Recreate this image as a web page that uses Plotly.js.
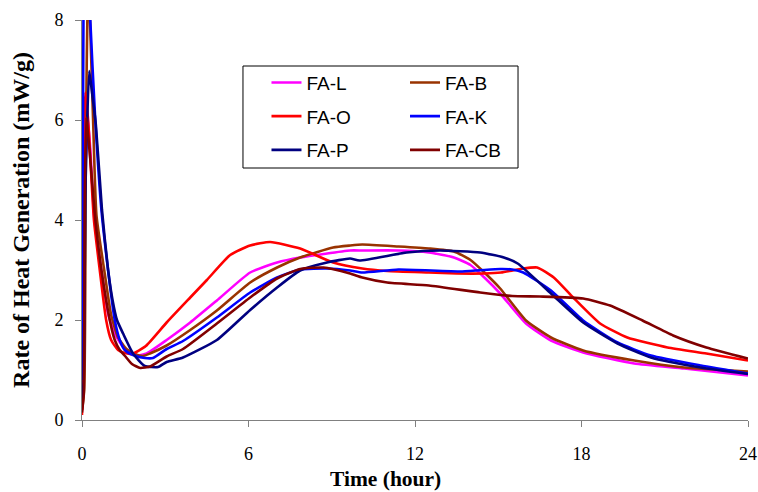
<!DOCTYPE html>
<html>
<head>
<meta charset="utf-8">
<script src="https://cdn.plot.ly/plotly-3.0.1.min.js"></script>
<style>html,body{margin:0;padding:0;background:#fff;}#chart{width:758px;height:492px;}</style>
</head>
<body>
<div id="chart"></div>
<script>
// Time (hour) and rate of heat generation (mW/g) for each mix
const timeL = [0, 0.05, 0.1, 0.2, 0.3, 0.45, 0.7, 0.95, 1.2, 1.5, 1.8, 2.02, 2.33, 3.05, 3.9, 4.86, 6.06, 7.03, 7.86, 9.66, 10.1, 11.4, 12.5, 13.4, 14.0, 14.5, 15.07, 16.0, 16.9, 18.06, 19.9, 21.7, 24];
const rateL = [0.2, 1.0, 4.5, 6.1, 5.4, 4.0, 3.0, 2.1, 1.7, 1.45, 1.34, 1.29, 1.33, 1.6, 1.95, 2.39, 2.95, 3.15, 3.25, 3.39, 3.39, 3.39, 3.35, 3.25, 3.1, 2.85, 2.53, 1.93, 1.59, 1.35, 1.13, 1.03, 0.89];

const timeB = [0, 0.08, 0.14, 0.22, 0.3, 0.4, 0.52, 0.8, 1.05, 1.3, 1.6, 1.9, 2.2, 2.45, 3.05, 3.9, 4.86, 6.06, 7.03, 7.86, 9.05, 9.66, 10.1, 11.4, 12.5, 13.4, 14.0, 14.5, 15.07, 16.0, 16.9, 18.06, 19.9, 21.7, 24];
const rateB = [0.2, 0.6, 5.5, 9.0, 7.8, 6.0, 4.1, 3.0, 2.1, 1.65, 1.42, 1.32, 1.28, 1.33, 1.49, 1.8, 2.19, 2.75, 3.05, 3.25, 3.45, 3.49, 3.51, 3.47, 3.43, 3.37, 3.2, 2.95, 2.63, 1.99, 1.65, 1.39, 1.19, 1.05, 0.97];

const timeO = [0, 0.03, 0.07, 0.12, 0.22, 0.43, 0.64, 0.87, 1.05, 1.3, 1.55, 1.8, 2.3, 3.05, 3.9, 4.5, 5.34, 6.06, 6.78, 7.86, 9.05, 10.1, 11.0, 12.5, 13.5, 14.5, 15.1, 15.8, 16.4, 17.0, 17.7, 18.67, 19.65, 21.1, 22.5, 24];
const rateO = [0.1, 2.5, 5.8, 6.55, 6.0, 4.0, 3.0, 2.0, 1.6, 1.4, 1.34, 1.32, 1.48, 1.95, 2.45, 2.8, 3.3, 3.49, 3.56, 3.43, 3.15, 3.03, 2.98, 2.95, 2.93, 2.93, 2.95, 3.02, 3.05, 2.85, 2.45, 1.93, 1.65, 1.45, 1.33, 1.19];

const timeK = [0, 0.02, 0.06, 0.15, 0.29, 0.47, 0.7, 0.94, 1.18, 1.36, 1.54, 1.84, 2.26, 2.56, 3.05, 3.64, 4.86, 6.06, 7.03, 7.86, 8.83, 9.66, 10.1, 11.4, 13.7, 15.07, 15.5, 15.9, 16.9, 18.06, 19.3, 20.5, 22.3, 24];
const rateK = [0.8, 2.5, 9.0, 10.5, 8.1, 6.09, 4.2, 3.0, 2.0, 1.6, 1.4, 1.3, 1.24, 1.24, 1.42, 1.58, 2.05, 2.55, 2.85, 3.01, 3.03, 2.99, 2.95, 3.01, 2.97, 3.02, 3.01, 2.95, 2.59, 1.99, 1.55, 1.29, 1.09, 0.93];

const timeP = [0, 0.06, 0.12, 0.26, 0.35, 0.5, 0.72, 0.94, 1.1, 1.26, 1.48, 1.84, 2.26, 2.74, 3.05, 3.64, 4.86, 6.06, 7.03, 7.86, 8.83, 9.66, 10.0, 11.7, 12.9, 14.35, 15.2, 15.7, 16.9, 18.06, 19.3, 20.5, 22.3, 24];
const rateP = [0.3, 0.8, 4.5, 6.98, 6.6, 5.9, 4.2, 3.0, 2.4, 2.0, 1.73, 1.33, 1.08, 1.06, 1.16, 1.25, 1.6, 2.2, 2.65, 2.99, 3.15, 3.23, 3.19, 3.35, 3.39, 3.35, 3.25, 3.13, 2.53, 1.95, 1.53, 1.25, 1.05, 0.92];

const timeCB = [0, 0.06, 0.1, 0.16, 0.3, 0.48, 0.7, 1.0, 1.18, 1.36, 1.55, 1.8, 2.1, 2.45, 3.05, 3.64, 4.86, 6.06, 7.03, 7.86, 8.7, 9.66, 10.1, 11.0, 12.5, 14.35, 15.5, 16.5, 18.06, 19.03, 20.2, 21.3, 22.5, 24];
const rateCB = [0.15, 0.5, 4.5, 6.05, 5.2, 4.0, 3.0, 2.0, 1.6, 1.4, 1.28, 1.12, 1.04, 1.07, 1.27, 1.42, 1.93, 2.45, 2.83, 3.02, 3.05, 2.93, 2.85, 2.75, 2.69, 2.55, 2.48, 2.47, 2.43, 2.29, 1.99, 1.69, 1.45, 1.23];

const seriesNames = ['FA-L', 'FA-B', 'FA-O', 'FA-K', 'FA-P', 'FA-CB'];
const seriesColors = ['#FF00FF', '#993300', '#FF0000', '#0000FF', '#000080', '#800000'];
const seriesLegend = ['legend', 'legend2', 'legend', 'legend2', 'legend', 'legend2'];
const xTickVals = [0, 6, 12, 18, 24];
const yTickVals = [0, 2, 4, 6, 8];
const xTitle = 'Time (hour)';
const yTitle = 'Rate of Heat Generation (mW/g)';

const times = [timeL, timeB, timeO, timeK, timeP, timeCB];
const rates = [rateL, rateB, rateO, rateK, rateP, rateCB];

const data = seriesNames.map((name, i) => ({
  x: times[i], y: rates[i], name: name, type: 'scatter', mode: 'lines',
  line: {color: seriesColors[i], width: 2.6, shape: 'spline', smoothing: 0.5},
  legend: seriesLegend[i], legendgroup: name
}));

const serif = 'Liberation Serif, Times New Roman, serif';
const sans = 'Liberation Sans, Arial, sans-serif';
const legendCommon = {
  font: {family: sans, size: 19, color: '#000'},
  bgcolor: 'rgba(0,0,0,0)', borderwidth: 0,
  traceorder: 'grouped', tracegroupgap: 6,
  xanchor: 'left', yanchor: 'top', itemclick: false
};

const layout = {
  width: 758, height: 492,
  margin: {l: 82, r: 10, t: 20, b: 72},
  paper_bgcolor: '#fff', plot_bgcolor: '#fff',
  showlegend: true,
  xaxis: {
    range: [0, 24], tickvals: xTickVals, ticktext: xTickVals.map(String),
    showgrid: false, zeroline: false, showline: true, linecolor: '#808080', linewidth: 1,
    ticks: 'outside', ticklen: 6, tickcolor: '#808080', ticklabelstandoff: 11,
    tickfont: {family: serif, size: 18, color: '#000'}
  },
  yaxis: {
    range: [0, 8], tickvals: yTickVals, ticktext: yTickVals.map(String),
    showgrid: false, zeroline: false, showline: true, linecolor: '#808080', linewidth: 1,
    ticks: 'outside', ticklen: 6, tickcolor: '#808080', ticklabelstandoff: 8,
    tickfont: {family: serif, size: 18, color: '#000'},
    title: {text: yTitle, font: {family: serif, size: 24, color: '#000', weight: 'bold'}, standoff: 18}
  },
  annotations: [{text: '<b>' + xTitle + '</b>', xref: 'paper', yref: 'paper', x: 0.455, y: -0.1475,
    xanchor: 'center', yanchor: 'middle', showarrow: false,
    font: {family: serif, size: 21.5, color: '#000'}}],
  legend: Object.assign({x: 0.277, y: 0.891}, legendCommon),
  legend2: Object.assign({x: 0.485, y: 0.891}, legendCommon),
  shapes: [{type: 'rect', xref: 'paper', yref: 'paper', x0: 0.2417, x1: 0.6547, y0: 0.63, y1: 0.885,
    line: {color: '#000', width: 1}, fillcolor: 'rgba(0,0,0,0)'}]
};

Plotly.newPlot('chart', data, layout, {staticPlot: true, displayModeBar: false});
</script>
</body>
</html>
